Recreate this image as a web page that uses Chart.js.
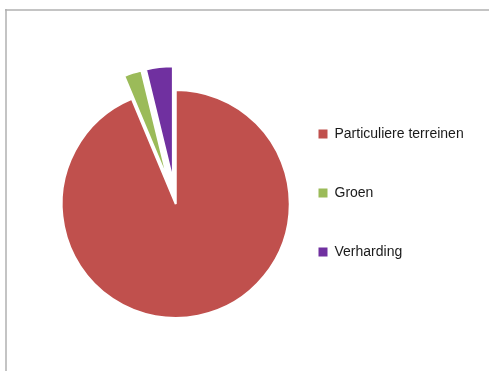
<!DOCTYPE html>
<html>
<head>
<meta charset="utf-8">
<script src="https://cdn.jsdelivr.net/npm/chart.js@4"></script>
<style>
  html, body { margin: 0; padding: 0; background: #fff; }
</style>
</head>
<body>
<canvas id="pie-chart" width="489" height="371"></canvas>
<script>
// categories and shares (percent)
const categories = ['Particuliere terreinen', 'Groen', 'Verharding']
const shares = [93.7, 2.5, 3.8]
const colours = ['#C0504D', '#9BBB59', '#7030A0']

// frame lines round the chart, like the Excel chart border
const framePlugin = {
  id: 'frame',
  beforeDraw: chart => {
    const ctx = chart.ctx
    ctx.save()
    ctx.strokeStyle = '#c4c4c4'
    ctx.lineWidth = 2
    ctx.beginPath()
    ctx.moveTo(6, 9)
    ctx.lineTo(6, chart.height)
    ctx.stroke()
    ctx.strokeStyle = '#b0b0b0'
    ctx.lineWidth = 1.5
    ctx.beginPath()
    ctx.moveTo(5, 10)
    ctx.lineTo(chart.width, 10)
    ctx.stroke()
    ctx.restore()
  }
}

// Excel style "explode": slide the slice out along its middle angle,
// without making it bigger (Chart.js offset also grows the radius)
const explodePlugin = {
  id: 'explode',
  afterDatasetUpdate: (chart, args) => {
    const amounts = chart.data.datasets[args.index].explode || []
    args.meta.data.forEach((arc, i) => {
      const d = amounts[i] || 0
      if (!d) return
      const mid = (arc.startAngle + arc.endAngle) / 2
      arc.x += Math.cos(mid) * d
      arc.y += Math.sin(mid) * d
    })
  }
}

const ctx = document.getElementById('pie-chart').getContext('2d')

const pieChart = new Chart(ctx, {
  type: 'pie',
  data: {
    labels: categories,
    datasets: [{
      data: shares,
      backgroundColor: colours,
      borderColor: '#ffffff',
      borderWidth: 2,
      explode: [0, 24, 24],
      hoverOffset: 0,
      clip: false
    }]
  },
  options: {
    responsive: false,
    animation: false,
    radius: 114,
    layout: {
      padding: { left: 78, right: 20, top: 82, bottom: 45 }
    },
    plugins: {
      tooltip: { enabled: false },
      legend: {
        position: 'right',
        align: 'start',
        labels: {
          boxWidth: 9,
          boxHeight: 9,
          padding: 45,
          color: '#1a1a1a',
          font: { family: 'Liberation Sans', size: 14 },
          generateLabels: chart =>
            Chart.overrides.pie.plugins.legend.labels.generateLabels(chart)
              .map(item => ({ ...item, lineWidth: 0 }))
        }
      }
    }
  },
  plugins: [framePlugin, explodePlugin]
})
</script>
</body>
</html>
